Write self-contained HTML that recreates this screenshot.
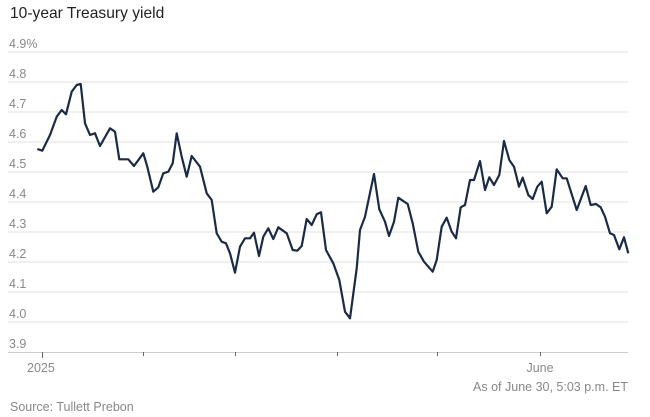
<!DOCTYPE html>
<html><head><meta charset="utf-8"><style>
body{margin:0;background:#fff;}
svg{display:block;font-family:"Liberation Sans",sans-serif;}
</style></head><body>
<svg width="650" height="417" viewBox="0 0 650 417">
<text x="10" y="18" font-size="15.6" fill="#222">10-year Treasury yield</text>
<g stroke="#e2e2e2" stroke-width="1">
<line x1="8" x2="628" y1="52" y2="52"/><line x1="8" x2="628" y1="82" y2="82"/><line x1="8" x2="628" y1="112" y2="112"/><line x1="8" x2="628" y1="142" y2="142"/><line x1="8" x2="628" y1="172" y2="172"/><line x1="8" x2="628" y1="202" y2="202"/><line x1="8" x2="628" y1="232" y2="232"/><line x1="8" x2="628" y1="262" y2="262"/><line x1="8" x2="628" y1="292" y2="292"/><line x1="8" x2="628" y1="322" y2="322"/>
</g>
<line x1="8" x2="628" y1="352.5" y2="352.5" stroke="#ccc"/>
<g stroke="#666" stroke-width="1">
<line x1="42.5" x2="42.5" y1="352" y2="358"/><line x1="143.5" x2="143.5" y1="352" y2="356"/><line x1="235.5" x2="235.5" y1="352" y2="356"/><line x1="337.5" x2="337.5" y1="352" y2="356"/><line x1="437.5" x2="437.5" y1="352" y2="356"/><line x1="540.5" x2="540.5" y1="352" y2="356"/>
</g>
<g font-size="12.5" fill="#888">
<text x="9" y="48">4.9%</text><text x="9" y="78">4.8</text><text x="9" y="108">4.7</text><text x="9" y="138">4.6</text><text x="9" y="168">4.5</text><text x="9" y="198">4.4</text><text x="9" y="228">4.3</text><text x="9" y="258">4.2</text><text x="9" y="288">4.1</text><text x="9" y="318">4.0</text><text x="9" y="348">3.9</text>
</g>
<text x="27" y="372" font-size="12.5" fill="#888">2025</text>
<text x="540" y="372" font-size="12.5" fill="#888" text-anchor="middle">June</text>
<text x="628" y="391" font-size="12.5" fill="#888" text-anchor="end">As of June 30, 5:03 p.m. ET</text>
<text x="10" y="411" font-size="12.5" fill="#888">Source: Tullett Prebon</text>
<polyline fill="none" stroke="#1b2b45" stroke-width="2.2" stroke-linejoin="round" points="37.3,149 42.3,150.7 50,135 56.7,116.7 61.7,110 66,114.3 71.7,91.7 76.7,85 80.7,84 85,123.3 90,135 95,133.3 100,146 110,128.3 115,131.7 119.3,159.3 128.3,159.3 134,166 143.3,153.3 147.3,166.7 153.3,191.7 158.3,187.3 163.3,173.3 168.3,171.7 172.7,163.3 176.7,133.3 181.7,156.7 186.7,176.7 191.7,156 200,166.7 206.7,193.3 211.7,200 216.7,233.3 221.7,241.7 226,243.3 230,253.3 235,272.7 240,246.7 245,238.3 250,238.3 254,232.7 259,256 263.3,236.7 268.3,228.3 273.3,239 278.3,227.3 286.7,233.3 292.7,250 297.3,250.7 301.7,246 306.7,219 311.7,225 316.7,214.3 321,212.3 326,250 333.3,263.3 339.3,280 345,311.7 350,318.3 356.7,268.3 360,230 365,216.7 374,174 379.3,209.3 385,221.7 389,236 394,221.7 398.3,197.7 407.7,204 412.7,223.3 418.3,251.7 424,261.7 432.7,271.7 436.7,260 441.7,226.7 446.7,217.7 451.7,231.7 456,238.3 460.7,207.3 465,205 470,180 474,180 480,161 485,190 489.3,177.3 494,185 499.3,175 504,141 509.3,160 514,166.7 519,186.7 522.7,177.7 528.3,195 532.7,199 537.3,186.7 541.7,181.7 546.7,213.3 551.7,206.7 556.7,169.3 562.7,178.3 566.7,178.3 576.7,210 585.7,186 590.7,205 596,204 600.7,207.3 605,216.7 610,233.3 614,235 619.3,249.3 624,237.3 628.3,253.3"/>
</svg>
</body></html>
